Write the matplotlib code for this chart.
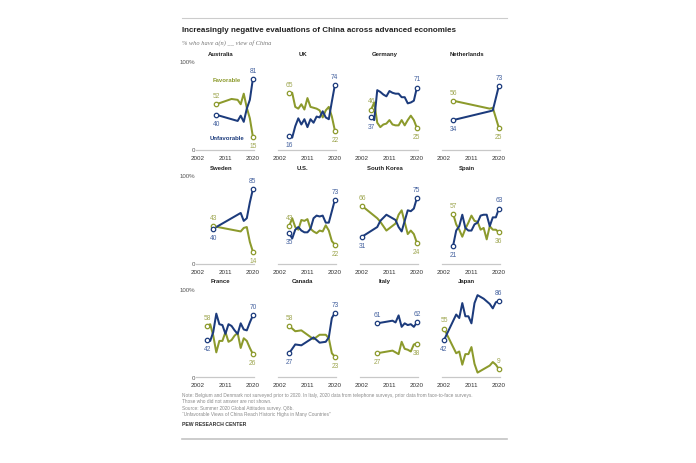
import matplotlib
matplotlib.use('Agg')
import matplotlib.pyplot as plt

plt.rcParams['font.family'] = ['Liberation Sans', 'DejaVu Sans']

# data: survey years, % favorable, % unfavorable
countries = ['Australia', 'UK', 'Germany', 'Netherlands',
             'Sweden', 'U.S.', 'South Korea', 'Spain',
             'France', 'Canada', 'Italy', 'Japan']

aus_years = [2008, 2013, 2015, 2016, 2017, 2018, 2019, 2020]
aus_fav = [52, 58, 57, 52, 64, 48, 36, 15]
aus_unfav = [40, 35, 33, 39, 32, 47, 57, 81]

uk_years = list(range(2005, 2021))
uk_fav = [65, 65, 49, 47, 52, 46, 59, 49, 48, 47, 45, 37, 45, 49, 38, 22]
uk_unfav = [16, 14, 27, 36, 29, 35, 26, 35, 31, 38, 37, 44, 37, 35, 55, 74]

ger_years = list(range(2005, 2021))
ger_fav = [46, 54, 31, 26, 29, 30, 34, 29, 28, 28, 34, 28, 34, 39, 34, 25]
ger_unfav = [37, 34, 68, 66, 63, 61, 67, 65, 64, 64, 60, 60, 53, 54, 56, 71]

ned_years = [2005, 2017, 2018, 2020]
ned_fav = [56, 47, 48, 25]
ned_unfav = [34, 44, 45, 73]

swe_years = [2007, 2016, 2017, 2018, 2019, 2020]
swe_fav = [43, 37, 41, 42, 25, 14]
swe_unfav = [40, 58, 49, 52, 70, 85]

us_years = list(range(2005, 2021))
us_fav = [43, 52, 42, 39, 50, 49, 51, 40, 37, 35, 38, 37, 44, 38, 26, 22]
us_unfav = [35, 29, 39, 42, 38, 36, 36, 40, 52, 55, 54, 55, 47, 47, 60, 73]

kor_years = [2002, 2007, 2008, 2010, 2013, 2014, 2015, 2017, 2018, 2019, 2020]
kor_fav = [66, 52, 48, 38, 46, 56, 61, 34, 38, 34, 24]
kor_unfav = [31, 42, 49, 56, 50, 42, 37, 61, 60, 63, 75]

spa_years = list(range(2005, 2021))
spa_fav = [57, 45, 39, 31, 40, 47, 55, 49, 48, 39, 41, 28, 43, 39, 39, 36]
spa_unfav = [21, 38, 43, 56, 41, 38, 38, 45, 47, 55, 56, 56, 43, 53, 53, 63]

fra_years = list(range(2005, 2021))
fra_fav = [58, 60, 47, 28, 41, 41, 51, 40, 42, 47, 50, 33, 44, 41, 33, 26]
fra_unfav = [42, 41, 51, 72, 60, 59, 49, 60, 58, 53, 49, 61, 54, 53, 62, 70]

can_years = [2005, 2007, 2009, 2013, 2015, 2017, 2018, 2019, 2020]
can_fav = [58, 52, 53, 43, 48, 48, 44, 27, 23]
can_unfav = [27, 37, 36, 45, 39, 40, 45, 67, 73]

ita_years = [2007, 2012, 2013, 2014, 2015, 2016, 2017, 2018, 2019, 2020]
ita_fav = [27, 30, 28, 26, 40, 32, 31, 29, 37, 38]
ita_unfav = [61, 64, 62, 70, 57, 61, 59, 60, 57, 62]

jpn_years = [2002, 2006, 2007, 2008, 2009, 2010, 2011, 2012, 2013, 2014,
             2015, 2016, 2017, 2018, 2019, 2020]
jpn_fav = [55, 27, 29, 14, 26, 26, 34, 15, 5, 7, 9, 11, 13, 17, 14, 9]
jpn_unfav = [42, 71, 67, 84, 69, 69, 61, 84, 93, 91, 89, 86, 83, 78, 85, 86]

all_years = [aus_years, uk_years, ger_years, ned_years, swe_years, us_years,
             kor_years, spa_years, fra_years, can_years, ita_years, jpn_years]
all_fav = [aus_fav, uk_fav, ger_fav, ned_fav, swe_fav, us_fav,
           kor_fav, spa_fav, fra_fav, can_fav, ita_fav, jpn_fav]
all_unfav = [aus_unfav, uk_unfav, ger_unfav, ned_unfav, swe_unfav, us_unfav,
             kor_unfav, spa_unfav, fra_unfav, can_unfav, ita_unfav, jpn_unfav]

tick_years = [2002, 2011, 2020]

GREEN = '#8c9a2c'
BLUE = '#1c3b7c'
GREEN_TXT = '#9ea650'
BLUE_TXT = '#45629f'

W, H = 696, 464
fig = plt.figure(figsize=(W / 100, H / 100), dpi=100)
fig.patch.set_facecolor('white')

# pixel layout of the grid
col_x0 = [198, 280, 362, 444]     # x pixel of 2002 in each column
row_y0 = [151, 265, 378]          # y pixel of 0% in each row
px_year = 3.05
px_100 = 88
xmin, xmax = 2000, 2022

# rules, title, subtitle
fig.add_artist(plt.Line2D([182 / W, 507 / W], [1 - 19 / H, 1 - 19 / H],
                          color='#cccccc', lw=0.8))
fig.text(182 / W, 1 - 31 / H,
         'Increasingly negative evaluations of China across advanced economies',
         fontsize=5.8, fontweight='bold', va='center', ha='left', color='#222222')
fig.text(182 / W, 1 - 43 / H, '% who have a(n) __ view of China',
         fontsize=4.6, style='italic', family='Liberation Serif',
         va='center', ha='left', color='#777777')

for i, name in enumerate(countries):
    r, c = divmod(i, 4)
    left = col_x0[c] + (xmin - 2002) * px_year
    width = (xmax - xmin) * px_year
    ax = fig.add_axes([left / W, 1 - row_y0[r] / H, width / W, px_100 / H])
    ax.set_xlim(xmin, xmax)
    ax.set_ylim(0, 100)
    ax.axis('off')

    yrs, fav, unf = all_years[i], all_fav[i], all_unfav[i]

    ax.plot([2001.5, 2020.5], [0, 0], color='#c8c8c8', lw=0.9, clip_on=False)
    for ty in tick_years:
        ax.text(ty, -9, str(ty), fontsize=4.5, ha='center', va='center',
                color='#333333')

    ax.plot(yrs, fav, color=GREEN, lw=1.45, solid_joinstyle='round', clip_on=False)
    ax.plot(yrs, unf, color=BLUE, lw=1.45, solid_joinstyle='round', clip_on=False)
    for s, col in [(fav, GREEN), (unf, BLUE)]:
        ax.plot([yrs[0], yrs[-1]], [s[0], s[-1]], 'o', ms=3.2, mfc='white',
                mec=col, mew=0.9, clip_on=False, zorder=5)

    # start and end value labels
    for k in [0, -1]:
        f_up = fav[k] >= unf[k]
        for val, up, tc in [(fav[k], f_up, GREEN_TXT), (unf[k], not f_up, BLUE_TXT)]:
            if name == 'Japan' and k == -1 and tc == GREEN_TXT:
                up = True
            ax.annotate(str(val), (yrs[k], val), xytext=(0, 6.2 if up else -6.2),
                        textcoords='offset points', ha='center', va='center',
                        fontsize=4.8, color=tc)

    ax.text(2009.5, 108, name, fontsize=4.3, fontweight='bold',
            ha='center', va='baseline', color='#222222')

    if c == 0:
        ax.text(2001, 100, '100%', fontsize=4.4, ha='right', va='center', color='#555555')
        ax.text(2001, 0, '0', fontsize=4.4, ha='right', va='center', color='#555555')
    if i == 0:
        ax.text(2011.3, 80, 'Favorable', fontsize=4.3, fontweight='bold',
                ha='center', va='center', color=GREEN)
        ax.text(2011.5, 14, 'Unfavorable', fontsize=4.3, fontweight='bold',
                ha='center', va='center', color=BLUE)

notes = ['Note: Belgium and Denmark not surveyed prior to 2020. In Italy, 2020 data from telephone surveys, prior data from face-to-face surveys.',
         'Those who did not answer are not shown.',
         'Source: Summer 2020 Global Attitudes survey. Q8b.',
         '\u201cUnfavorable Views of China Reach Historic Highs in Many Countries\u201d']
for j, line in enumerate(notes):
    fig.text(182 / W, 1 - (395 + j * 6.6) / H, line, fontsize=3.4,
             va='center', ha='left', color='#8a8a8a')
fig.text(182 / W, 1 - 425 / H, 'PEW RESEARCH CENTER', fontsize=3.7,
         fontweight='bold', va='center', ha='left', color='#333333')
fig.add_artist(plt.Line2D([182 / W, 507 / W], [1 - 440 / H, 1 - 440 / H],
                          color='#c4c4c4', lw=1.2))

fig.savefig('out.png', dpi=100, facecolor='white')
